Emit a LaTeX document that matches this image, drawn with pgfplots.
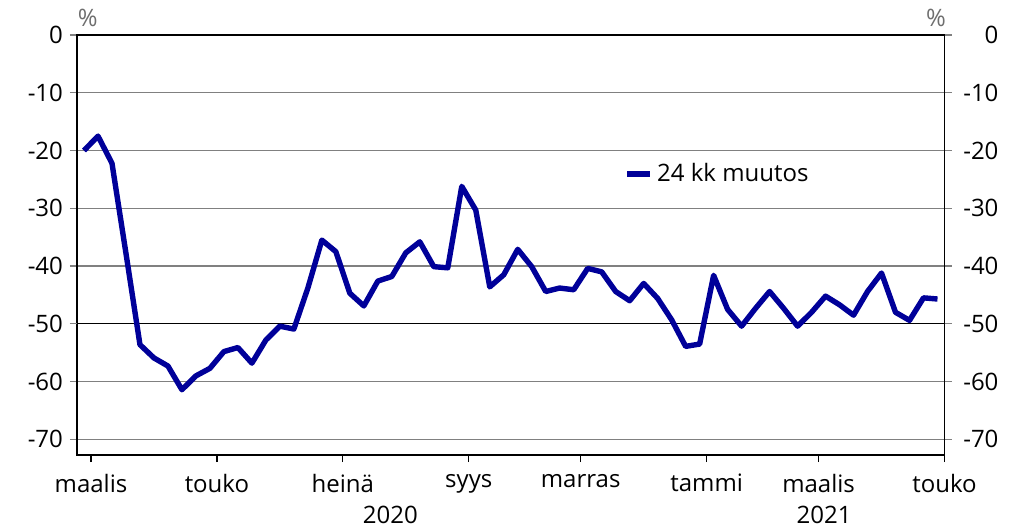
\documentclass[border=0pt]{standalone}
\usepackage{pgfplots}
\pgfplotsset{compat=1.18}
\usepackage{pgfplotstable}
\usepackage{fontspec}
\setmainfont{Open Sans}
\definecolor{linja}{RGB}{0,0,153}
\definecolor{ruudukko}{RGB}{128,128,128}
\definecolor{pros}{RGB}{110,110,110}

% weekly observations, index 0 = first week of March 2020
\pgfplotstableread{
i v
0 -20.0
1 -17.5
2 -22.2
3 -37.8
4 -53.6
5 -55.9
6 -57.3
7 -61.4
8 -59.0
9 -57.7
10 -54.8
11 -54.1
12 -56.8
13 -52.8
14 -50.4
15 -50.9
16 -43.8
17 -35.5
18 -37.5
19 -44.7
20 -46.9
21 -42.6
22 -41.8
23 -37.7
24 -35.8
25 -40.1
26 -40.3
27 -26.2
28 -30.3
29 -43.6
30 -41.5
31 -37.1
32 -40.1
33 -44.4
34 -43.8
35 -44.1
36 -40.4
37 -41.0
38 -44.4
39 -46.0
40 -43.0
41 -45.6
42 -49.3
43 -53.9
44 -53.5
45 -41.6
46 -47.5
47 -50.4
48 -47.3
49 -44.4
50 -47.3
51 -50.4
52 -48.0
53 -45.2
54 -46.7
55 -48.5
56 -44.4
57 -41.2
58 -48.0
59 -49.4
60 -45.5
61 -45.7
}\muutos

\begin{document}
\begin{tikzpicture}[font=\fontsize{12}{14}\selectfont]
\path[use as bounding box] (-38.5pt,-37.5pt) rectangle (467.5pt,227.5pt);
\begin{axis}[
  scale only axis, width=433.75pt, height=210pt,
  xmin=-0.5, xmax=61.5, ymin=-72.7, ymax=0,
  xtick={0.5,9.5,18.5,27.5,35.5,44.5,52.5,61.5},
  xticklabels={maalis,touko,heinä,syys,marras,tammi,maalis,touko},
  xticklabel style={yshift=-2.5pt},
  ytick={-70,-60,...,0},
  yticklabels={-70,-60,-50,-40,-30,-20,-10,0},
  ymajorgrids,
  major grid style={ruudukko, line width=0.6pt},
  extra y ticks={-50}, extra y tick labels={},
  extra y tick style={major grid style={black, line width=0.6pt}},
  tick align=outside, major tick length=3.5pt,
  xtick pos=bottom, ytick pos=left,
  xtick style={black, line width=0.6pt},
  ytick style={ruudukko, line width=0.6pt},
  axis line style={black, line width=0.7pt},
  clip=false,
  legend style={at={(0.631,0.669)}, anchor=west, draw=none, fill=none,
    inner sep=0pt, nodes={inner sep=2pt}},
  legend image code/.code={\draw[#1] (0pt,0pt) -- (11.5pt,0pt);},
]
\addplot[linja, line width=2.7pt, line join=round] table[x=i, y=v] {\muutos};
\addlegendentry{24 kk muutos}
\node at ([yshift=-30pt]axis cs:21.9,-72.7) {2020};
\node at ([yshift=-30pt]axis cs:52.9,-72.7) {2021};
\node[text=pros] at ([yshift=8.5pt]axis cs:0.26,0) {\%};
\node[text=pros] at ([yshift=8.5pt]axis cs:60.9,0) {\%};
\end{axis}
\begin{axis}[
  scale only axis, width=433.75pt, height=210pt,
  xmin=-0.5, xmax=61.5, ymin=-72.7, ymax=0,
  axis x line=none, axis y line*=right,
  ytick={-70,-60,...,0},
  yticklabels={-70,-60,-50,-40,-30,-20,-10,0},
  yticklabel style={anchor=east, xshift=27pt},
  tick align=outside, major tick length=3.5pt,
  ytick style={ruudukko, line width=0.6pt},
  axis line style={black, line width=0.7pt},
]
\end{axis}
\end{tikzpicture}
\end{document}
